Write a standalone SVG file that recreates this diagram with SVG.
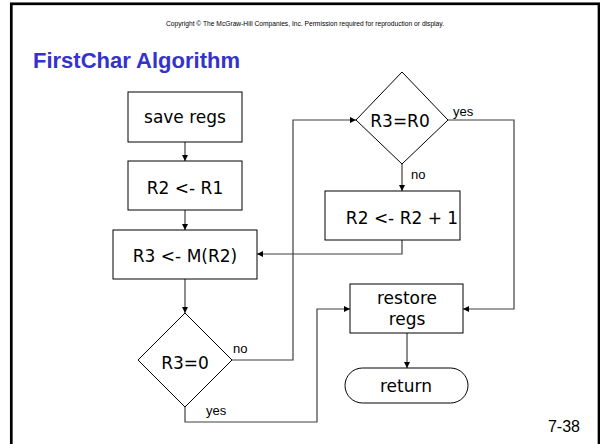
<svg xmlns="http://www.w3.org/2000/svg" width="600" height="444" viewBox="0 0 600 444">
  <style>
    .box { fill: #ffffff; stroke: #000000; stroke-width: 1; }
    .node-text { font-family: "DejaVu Sans", Verdana, sans-serif; font-size: 17px; fill: #000000; text-anchor: middle; }
    .edge { fill: none; stroke: #404040; stroke-width: 1.2; }
    .label { font-family: "Liberation Sans", Arial, sans-serif; font-size: 13px; fill: #000000; }
  </style>
  <defs>
    <marker id="arrow" viewBox="0 0 6 6" refX="6" refY="3" markerWidth="6" markerHeight="6" markerUnits="userSpaceOnUse" orient="auto">
      <path d="M0,0 L6,3 L0,6 z" fill="#000000"/>
    </marker>
  </defs>

  <rect x="0" y="0" width="600" height="444" fill="#ffffff"/>
  <!-- slide frame -->
  <rect x="11.3" y="3.8" width="587.7" height="450" fill="none" stroke="#000000" stroke-width="2.7"/>

  <text x="305" y="26" font-family="Liberation Sans, Arial, sans-serif" font-size="6.5" text-anchor="middle" textLength="278" lengthAdjust="spacingAndGlyphs">Copyright © The McGraw-Hill Companies, Inc.  Permission required for reproduction or display.</text>
  <text x="33" y="68" font-family="Liberation Sans, Arial, sans-serif" font-size="22" font-weight="bold" fill="#3333cc">FirstChar Algorithm</text>

  <!-- connectors -->
  <g id="connectors">
    <path class="edge" d="M185,142 V161" marker-end="url(#arrow)"/>
    <path class="edge" d="M185,210 V230" marker-end="url(#arrow)"/>
    <path class="edge" d="M185,279 V313" marker-end="url(#arrow)"/>
    <path class="edge" d="M232,360 H293 V120 H356" marker-end="url(#arrow)"/>
    <path class="edge" d="M402,164 V191" marker-end="url(#arrow)"/>
    <path class="edge" d="M402,240 V254 H257" marker-end="url(#arrow)"/>
    <path class="edge" d="M448,120 H514 V309 H463" marker-end="url(#arrow)"/>
    <path class="edge" d="M185,407 V422 H317 V309 H350" marker-end="url(#arrow)"/>
    <path class="edge" d="M407,333 V368" marker-end="url(#arrow)"/>
    <text class="label" x="453" y="116">yes</text>
    <text class="label" x="411" y="179">no</text>
    <text class="label" x="233" y="353">no</text>
    <text class="label" x="206" y="415">yes</text>
  </g>

  <g id="save-regs">
    <rect class="box" x="128" y="92" width="114" height="50"/>
    <text class="node-text" x="185" y="123">save regs</text>
  </g>
  <g id="r2-gets-r1">
    <rect class="box" x="128" y="161" width="114" height="49"/>
    <text class="node-text" x="185" y="194">R2 &lt;- R1</text>
  </g>
  <g id="r3-gets-mem">
    <rect class="box" x="113" y="230" width="144" height="49"/>
    <text class="node-text" x="185" y="262">R3 &lt;- M(R2)</text>
  </g>
  <g id="test-zero">
    <polygon class="box" points="185,313 232,360 185,407 138,360"/>
    <text class="node-text" x="185" y="369">R3=0</text>
  </g>
  <g id="test-r0">
    <polygon class="box" points="402,72 448,120 402,164 356,120"/>
    <text class="node-text" x="400" y="127">R3=R0</text>
  </g>
  <g id="increment">
    <rect class="box" x="325" y="191" width="135" height="49"/>
    <text class="node-text" x="402" y="224">R2 &lt;- R2 + 1</text>
  </g>
  <g id="restore-regs">
    <rect class="box" x="350" y="284" width="113" height="49"/>
    <text class="node-text" x="407" y="304">restore</text>
    <text class="node-text" x="407" y="325">regs</text>
  </g>
  <g id="return">
    <rect class="box" x="345" y="368" width="123" height="35" rx="17.5" ry="17.5"/>
    <text class="node-text" x="406" y="392">return</text>
  </g>

  <text x="580" y="432" font-family="Liberation Sans, Arial, sans-serif" font-size="16" text-anchor="end">7-38</text>
</svg>
